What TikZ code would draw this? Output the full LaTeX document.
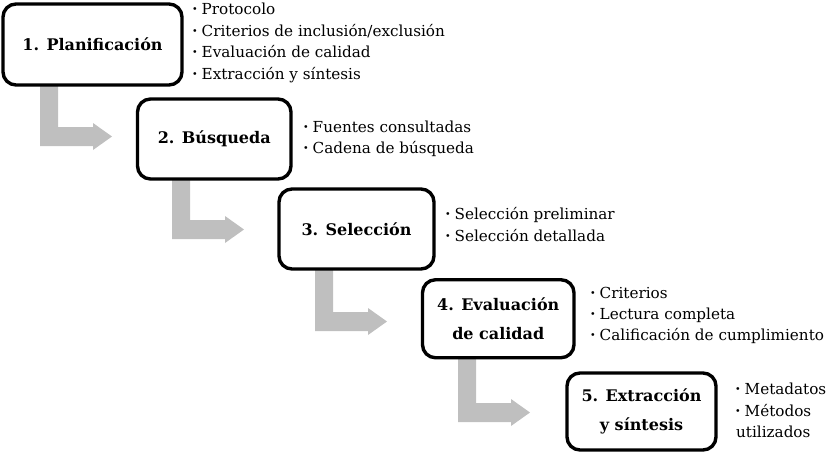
\documentclass[tikz,border=0pt]{standalone}
\usepackage{fontspec}
\setmainfont{DejaVu Serif}
\usetikzlibrary{calc}
\definecolor{arrgray}{RGB}{191,191,191}
\newcommand{\bul}{\makebox[9.5pt][l]{\raisebox{1.2pt}{\fontsize{9.5}{9.5}\selectfont\textbullet}}}
\tikzset{
  stepbox/.style={draw=black, line width=3.4pt, rounded corners=13pt, fill=white,
    inner sep=0pt, align=center, font=\fontsize{16}{29.5}\selectfont\bfseries},
  item/.style={anchor=base west, inner sep=0pt, font=\fontsize{15.2}{21}\selectfont},
  arr/.style={fill=arrgray, draw=none}
}
\newcommand{\Larrow}[3]{% #1 bar left x, #2 top y, #3 horizontal bar top y
  \fill[arr] (#1,#2) -- (#1+18,#2) -- (#1+18,#3) -- (#1+53,#3) -- (#1+53,#3-4)
    -- (#1+72,#3+9.5) -- (#1+53,#3+23) -- (#1+53,#3+19) -- (#1,#3+19) -- cycle;}
\begin{document}
\begin{tikzpicture}[x=1pt,y=-1pt]
\useasboundingbox (0,0) rectangle (832,455);
% arrows
\Larrow{40}{80}{127}
\Larrow{172}{174}{220}
\Larrow{315}{264}{312}
\Larrow{458}{352}{403}
% boxes
\node[stepbox, minimum width=179pt, minimum height=81pt] (b1) at (92.5,44.5) {1. Planificación};
\node[stepbox, minimum width=153.5pt, minimum height=80pt] (b2) at (214.25,139) {2. Búsqueda};
\node[stepbox, minimum width=155pt, minimum height=80pt] (b3) at (356.5,229) {3. Selección};
\node[stepbox, minimum width=151.5pt, minimum height=78pt] (b4) at (498.25,318.75) {4. Evaluación\\de calidad};
\node[stepbox, minimum width=149pt, minimum height=77pt] (b5) at (641.5,411.5) {5. Extracción\\y síntesis};
% lists
\node[item] (l11) at (192,14) {\bul Protocolo};
\node[item] (l12) at (192,36) {\bul Criterios de inclusión/exclusión};
\node[item] (l13) at (192,57) {\bul Evaluación de calidad};
\node[item] (l14) at (192,79) {\bul Extracción y síntesis};
\node[item] (l21) at (303,132) {\bul Fuentes consultadas};
\node[item] (l22) at (303,153) {\bul Cadena de búsqueda};
\node[item] (l31) at (445,219) {\bul Selección preliminar};
\node[item] (l32) at (445,241) {\bul Selección detallada};
\node[item] (l41) at (590,298) {\bul Criterios};
\node[item] (l42) at (590,319) {\bul Lectura completa};
\node[item] (l43) at (590,340) {\bul Calificación de cumplimiento};
\node[item] (l51) at (735,394) {\bul Metadatos};
\node[item] (l52) at (735,416) {\bul Métodos};
\node[item] (l53) at (736,437) {utilizados};
\end{tikzpicture}
\end{document}
